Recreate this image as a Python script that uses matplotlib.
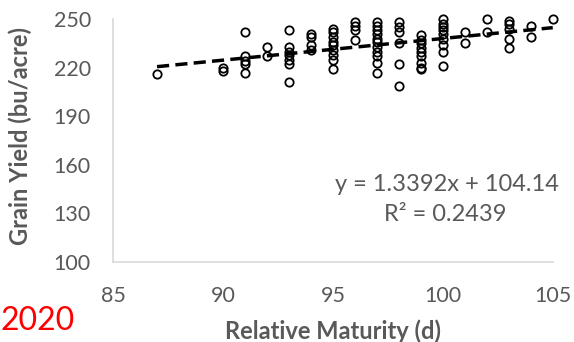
import matplotlib
matplotlib.use("Agg")
import matplotlib.pyplot as plt
import numpy as np

# relative maturity (d) and grain yield (bu/acre)
rm_87 = [216]
rm_90 = [220, 218]
rm_91 = [242, 227, 224, 222, 217]
rm_92 = [233, 227]
rm_93 = [243, 233, 230, 228, 225, 222, 211]
rm_94 = [241, 239, 234, 231]
rm_95 = [244, 242, 239, 236, 234, 231, 228, 225, 219]
rm_96 = [248, 246, 243, 237]
rm_97 = [248, 246, 243, 241, 238, 236, 233, 230, 227, 223, 217]
rm_98 = [248, 245, 242, 235, 222, 209]
rm_99 = [240, 237, 235, 232, 230, 227, 223, 220, 219]
rm_100 = [250, 247, 245, 243, 241, 238, 234, 230, 221]
rm_101 = [242, 235]
rm_102 = [250, 242]
rm_103 = [249, 247, 244, 238, 232]
rm_104 = [246, 239]
rm_105 = [250]

groups = {87: rm_87, 90: rm_90, 91: rm_91, 92: rm_92, 93: rm_93, 94: rm_94,
          95: rm_95, 96: rm_96, 97: rm_97, 98: rm_98, 99: rm_99, 100: rm_100,
          101: rm_101, 102: rm_102, 103: rm_103, 104: rm_104, 105: rm_105}

slope = 1.3392
intercept = 104.14
r2 = 0.2439

xticks = [85, 90, 95, 100, 105]
yticks = [100, 130, 160, 190, 220, 250]

gray = "#595959"
plt.rcParams['font.family'] = ['Lato', 'DejaVu Sans']

fig = plt.figure(figsize=(5.74, 3.42), dpi=100)
ax = fig.add_axes([0.197, 0.234, 0.766, 0.71])

xs = []
ys = []
for rm, vals in groups.items():
    xs += [rm] * len(vals)
    ys += vals
ax.plot(xs, ys, 'o', markerfacecolor='none', markeredgecolor='black',
        markersize=6, markeredgewidth=1.3, zorder=2, clip_on=False)

xl = np.array([min(xs), max(xs)])
ax.plot(xl, slope * xl + intercept, color='black', linewidth=2.5,
        dashes=(3.5, 1.8), zorder=3)

ax.set_xlim(85, 105)
ax.set_ylim(100, 250)
ax.set_xticks(xticks)
ax.set_yticks(yticks)
ax.tick_params(length=0, labelsize=15.5, labelcolor=gray)
ax.tick_params(axis='x', pad=17)
ax.tick_params(axis='y', pad=16)
for s in ['top', 'right']:
    ax.spines[s].set_visible(False)
for s in ['left', 'bottom']:
    ax.spines[s].set_color('#d9d9d9')
    ax.spines[s].set_linewidth(1.2)

ax.set_xlabel("Relative Maturity (d)", fontsize=17, fontweight='bold', color=gray)
ax.set_ylabel("Grain Yield (bu/acre)", fontsize=17, fontweight='bold', color=gray)
ax.xaxis.set_label_coords(0.5, -0.235)
ax.yaxis.set_label_coords(-0.184, 0.518)

ax.text(0.76, 0.32, "y = %.4fx + %.2f" % (slope, intercept), transform=ax.transAxes,
        ha='center', va='center', fontsize=17, color=gray)
ax.text(0.755, 0.197, "R² = %.4f" % r2, transform=ax.transAxes,
        ha='center', va='center', fontsize=17, color=gray)

fig.text(0.0, 0.035, "2020", color='red', fontsize=23)

fig.savefig("out.png", dpi=100)
